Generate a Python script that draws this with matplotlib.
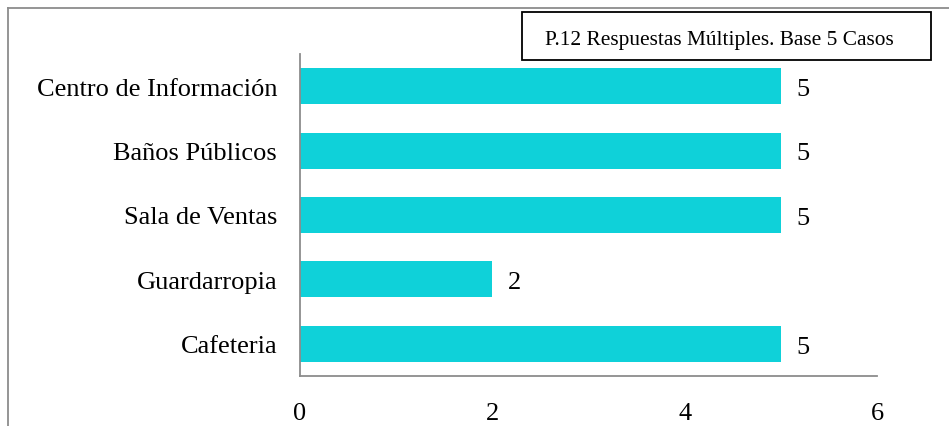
import matplotlib.pyplot as plt
from matplotlib.lines import Line2D
from matplotlib.patches import Rectangle

categories = ['Cafeteria', 'Guardarropia', 'Sala de Ventas', 'Baños Públicos', 'Centro de Información']
values = [5, 2, 5, 5, 5]
xticks = [0, 2, 4, 6]

plt.rcParams['font.family'] = ['Liberation Serif', 'DejaVu Serif']

fig = plt.figure(figsize=(9.49, 4.27), dpi=100)
ax = fig.add_axes([300 / 949, 1 - 377 / 427, 577 / 949, 322 / 427])

color = '#0fd1d9'
ax.barh(range(len(categories)), values, height=0.56, color=color)
for i, v in enumerate(values):
    ax.text(v + 0.16, i - 0.045, str(v), va='center', ha='left', fontsize=19)

ax.set_xlim(0, 6)
ax.set_ylim(-0.5, 4.5)
ax.set_xticks(xticks)
ax.set_xticklabels([str(t) for t in xticks], fontsize=19)
ax.set_yticks(range(len(categories)))
ax.set_yticklabels(categories, fontsize=19)
ax.tick_params(axis='both', length=0)
ax.tick_params(axis='x', pad=18.5)
ax.tick_params(axis='y', pad=16.5)

for side in ['top', 'right']:
    ax.spines[side].set_visible(False)
for side in ['left', 'bottom']:
    ax.spines[side].set_color('#8c8c8c')
    ax.spines[side].set_linewidth(1.3)

# outer frame (top and left edges)
fig.add_artist(Line2D([8 / 949, 1], [1 - 9 / 427, 1 - 9 / 427], color='#8c8c8c', lw=1.3))
fig.add_artist(Line2D([8 / 949, 8 / 949], [0, 1 - 9 / 427], color='#8c8c8c', lw=1.3))

# note box
fig.add_artist(Rectangle((522 / 949, 1 - 61 / 427), 409 / 949, 48 / 427,
                         transform=fig.transFigure, fc='white', ec='black', lw=1.3))
fig.text(719 / 949, 1 - 40 / 427, 'P.12 Respuestas Múltiples. Base 5 Casos',
         ha='center', va='center', fontsize=15.4)

fig.savefig('out.png', dpi=100)
